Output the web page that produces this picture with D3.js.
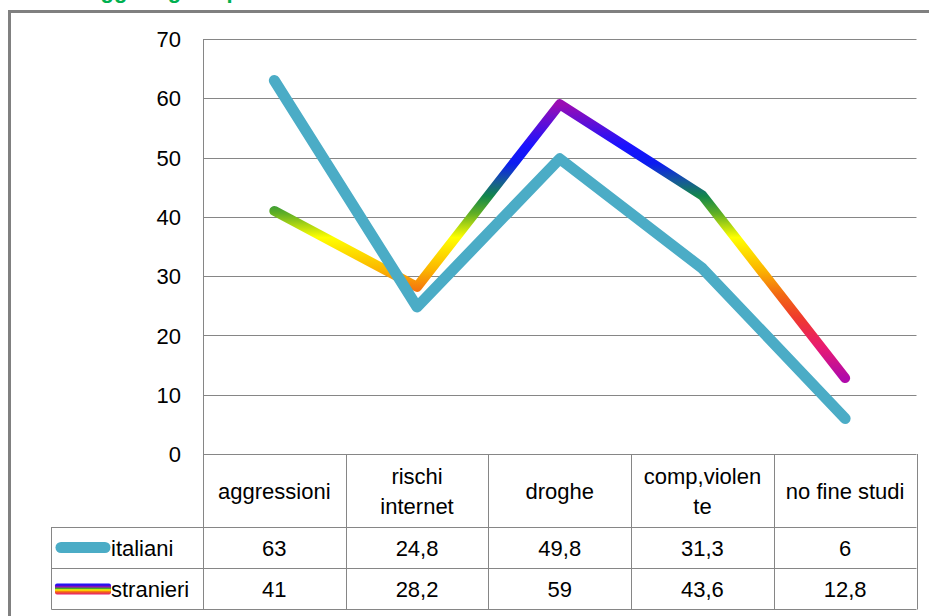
<!DOCTYPE html>
<html>
<head>
<meta charset="utf-8">
<script src="https://cdn.jsdelivr.net/npm/d3@7/dist/d3.min.js"></script>
<style>
  html, body { margin: 0; padding: 0; background: #fff; overflow: hidden; }
  svg { display: block; }
  text { font-family: "Liberation Sans", Arial, sans-serif; fill: #000; }
</style>
</head>
<body>
<script>
// Chart data
const categories = ["aggressioni", "rischi internet", "droghe", "comp,violente", "no fine studi"];
const headerLines = [["aggressioni"], ["rischi", "internet"], ["droghe"], ["comp,violen", "te"], ["no fine studi"]];
const seriesNames = ["italiani", "stranieri"];
const italiani = [63, 24.8, 49.8, 31.3, 6];
const stranieri = [41, 28.2, 59, 43.6, 12.8];
const yTicks = [0, 10, 20, 30, 40, 50, 60, 70];
const titleText = "Maggiori gravi problemi";

// Rainbow used for the "stranieri" line, keyed by value (top to bottom)
const rainbowStops = [
  [59, "#9a0cb4"], [52, "#1a12ff"], [49, "#0b1cf0"], [46, "#165a98"], [43.5, "#12864a"],
  [40.5, "#62b024"], [36.5, "#ffff00"], [31, "#fbb400"], [27, "#f26a12"],
  [23, "#ef3a2c"], [18, "#e81a72"], [12.8, "#b00aaa"]
];

const W = 929, H = 616;
const svg = d3.select("body").append("svg").attr("width", W).attr("height", H);

const x = d3.scaleBand().domain(categories).range([203, 916.5]);
const y = d3.scaleLinear().domain([0, 70]).range([454, 39]);
const cx = c => x(c) + x.bandwidth() / 2;

// Title (mostly above the visible area)
svg.append("text")
  .attr("x", 70).attr("y", -2)
  .style("font-weight", "bold").style("font-size", "22px").style("fill", "#00b050")
  .text(titleText);

// Outer frame
svg.append("path")
  .attr("d", `M9.5,${H + 5} V11.5 H${W + 5}`)
  .attr("fill", "none").attr("stroke", "#808080").attr("stroke-width", 3);

// Gridlines
svg.append("g").selectAll("line").data(yTicks.filter(t => t > 0)).join("line")
  .attr("x1", 203).attr("x2", 916.5)
  .attr("y1", d => Math.round(y(d)) + 0.5).attr("y2", d => Math.round(y(d)) + 0.5)
  .attr("stroke", "#868686").attr("stroke-width", 1);

// Y axis labels
const yAxis = d3.axisLeft(y).tickValues(yTicks).tickSize(0).tickPadding(0).tickFormat(d3.format("d"));
const gy = svg.append("g").attr("transform", "translate(181,0)").call(yAxis);
gy.select(".domain").remove();
gy.selectAll("text").style("font-size", "22px").style("font-family", '"Liberation Sans", Arial, sans-serif')
  .attr("fill", "#000").attr("dy", "0.35em");

// Data table grid
const gridColor = "#868686";
const tbl = svg.append("g").attr("stroke", gridColor).attr("stroke-width", 1).attr("fill", "none");
const rowY = [454, 527, 568, 609];
tbl.append("line").attr("x1", 203.5).attr("x2", 203.5).attr("y1", 39).attr("y2", rowY[3] + 0.5);
tbl.append("line").attr("x1", 203).attr("x2", 916.5).attr("y1", rowY[0] + 0.5).attr("y2", rowY[0] + 0.5);
rowY.slice(1).forEach(r => {
  tbl.append("line").attr("x1", 51.5).attr("x2", 916.5).attr("y1", r + 0.5).attr("y2", r + 0.5);
});
tbl.append("line").attr("x1", 51.5).attr("x2", 51.5).attr("y1", rowY[1]).attr("y2", rowY[3] + 0.5);
categories.forEach(c => {
  const xr = Math.round(x(c) + x.bandwidth()) + 0.5;
  tbl.append("line").attr("x1", xr).attr("x2", xr).attr("y1", rowY[0]).attr("y2", rowY[3] + 0.5);
});

// Header labels
const hdr = svg.append("g").style("font-size", "22px").attr("text-anchor", "middle");
headerLines.forEach((lines, i) => {
  const c = categories[i];
  const mid = (rowY[0] + rowY[1]) / 2 + 8;
  lines.forEach((ln, j) => {
    hdr.append("text")
      .attr("x", cx(c))
      .attr("y", mid + (j - (lines.length - 1) / 2) * 30)
      .text(ln);
  });
});

// Value rows
const fmt = v => String(v).replace(".", ",");
[italiani, stranieri].forEach((vals, r) => {
  const mid = (rowY[r + 1] + rowY[r + 2]) / 2 + 8;
  svg.append("g").style("font-size", "22px").attr("text-anchor", "middle")
    .selectAll("text").data(vals).join("text")
    .attr("x", (d, i) => cx(categories[i]))
    .attr("y", mid)
    .text(d => fmt(d));
  svg.append("text").style("font-size", "22px")
    .attr("x", 111).attr("y", mid)
    .text(seriesNames[r]);
});

// Gradients
const defs = svg.append("defs");
const yMax = d3.max(stranieri), yMin = d3.min(stranieri);
const lineGrad = defs.append("linearGradient").attr("id", "rainbowLine")
  .attr("gradientUnits", "userSpaceOnUse")
  .attr("x1", 0).attr("x2", 0).attr("y1", y(yMax)).attr("y2", y(yMin));
rainbowStops.forEach(([v, col]) => {
  lineGrad.append("stop").attr("offset", (yMax - v) / (yMax - yMin)).attr("stop-color", col);
});
const swatchGrad = defs.append("linearGradient").attr("id", "rainbowSwatch")
  .attr("x1", 0).attr("x2", 0).attr("y1", 0).attr("y2", 1);
[["0", "#1a12ff"], ["0.18", "#3a10e0"], ["0.3", "#9a0cb4"], ["0.45", "#3fa030"], ["0.58", "#ffff00"], ["0.75", "#f26a12"], ["1", "#e81a72"]]
  .forEach(([o, col]) => swatchGrad.append("stop").attr("offset", o).attr("stop-color", col));

// Legend keys
const legMid1 = (rowY[1] + rowY[2]) / 2;
const legMid2 = (rowY[2] + rowY[3]) / 2;
svg.append("line").attr("x1", 61).attr("x2", 105).attr("y1", legMid1).attr("y2", legMid1)
  .attr("stroke", "#4bacc6").attr("stroke-width", 11).attr("stroke-linecap", "round");
svg.append("rect").attr("x", 55).attr("y", legMid2 - 5).attr("width", 56).attr("height", 11)
  .attr("rx", 2).attr("fill", "url(#rainbowSwatch)");

// Lines
const line = d3.line().x((d, i) => cx(categories[i])).y(d => y(d));
svg.append("path").datum(stranieri)
  .attr("d", line).attr("fill", "none")
  .attr("stroke", "url(#rainbowLine)").attr("stroke-width", 10)
  .attr("stroke-linecap", "round").attr("stroke-linejoin", "round");
svg.append("path").datum(italiani)
  .attr("d", line).attr("fill", "none")
  .attr("stroke", "#4bacc6").attr("stroke-width", 11)
  .attr("stroke-linecap", "round").attr("stroke-linejoin", "round");
</script>
</body>
</html>
